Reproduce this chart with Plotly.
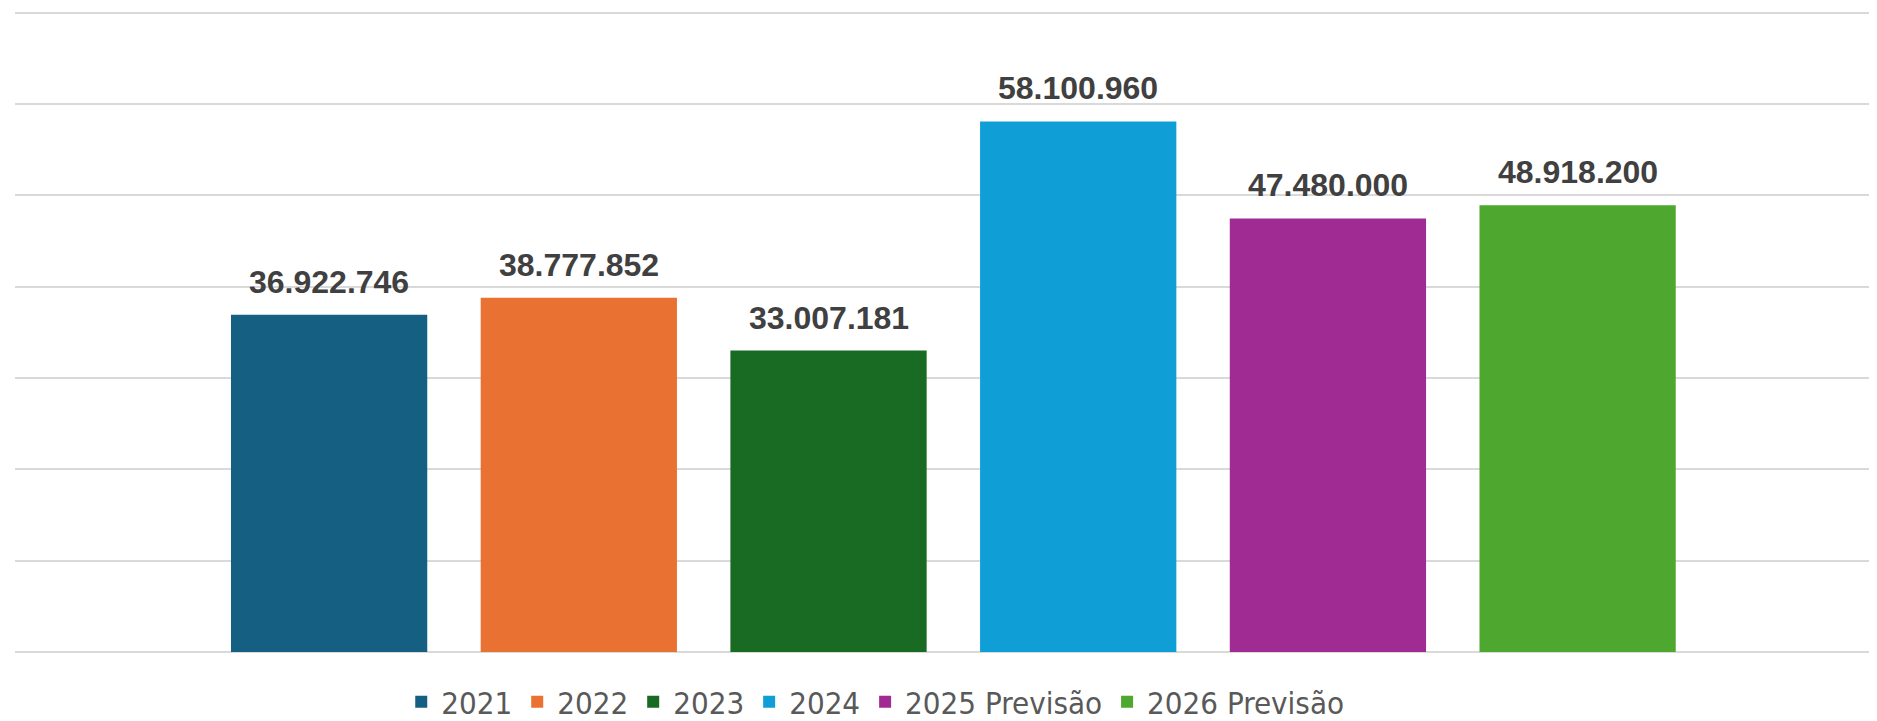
import plotly.graph_objects as go

series_names = ["2021", "2022", "2023", "2024", "2025 Previsão", "2026 Previsão"]
values = [36922746, 38777852, 33007181, 58100960, 47480000, 48918200]
colors = ["#156082", "#E97132", "#196B24", "#0F9ED5", "#A02B93", "#4EA72E"]


def fmt(v):
    return f"{v:,}".replace(",", ".")


fig = go.Figure()
for i, (name, val, col) in enumerate(zip(series_names, values, colors)):
    fig.add_trace(go.Bar(
        x=[name], y=[val], name=name,
        marker=dict(color=col, line=dict(width=0)),
        width=0.786,
    ))
    fig.add_annotation(
        x=i, y=val, text=fmt(val), showarrow=False,
        yanchor="bottom", yshift=13,
        font=dict(family="Liberation Sans", size=32, color="#404040", weight="bold"),
    )

# page body has an 8px margin, so the figure is sized/offset to compensate
fig.update_layout(
    width=1869, height=713,
    barmode="overlay",
    plot_bgcolor="white", paper_bgcolor="white",
    margin=dict(l=7, r=0, t=2, b=69, autoexpand=False),
    showlegend=True,
    legend=dict(
        orientation="h", x=0.462, xanchor="center", y=-0.078, yanchor="middle",
        font=dict(family="DejaVu Sans Condensed, Roboto Condensed, Liberation Sans", size=31, color="#595959"),
        bgcolor="rgba(0,0,0,0)", borderwidth=0,
    ),
    xaxis=dict(
        type="category", categoryorder="array", categoryarray=series_names,
        range=[-1.258, 6.199], showticklabels=False, showgrid=False,
        zeroline=False, showline=False, ticks="", automargin=False,
    ),
    yaxis=dict(
        range=[0, 70.3e6], dtick=10e6, showticklabels=False,
        showgrid=True, gridcolor="#d9d9d9", gridwidth=2,
        zeroline=True, zerolinecolor="#d9d9d9", zerolinewidth=2,
        showline=False, ticks="", automargin=False,
    ),
)

fig.write_html("out.html")
